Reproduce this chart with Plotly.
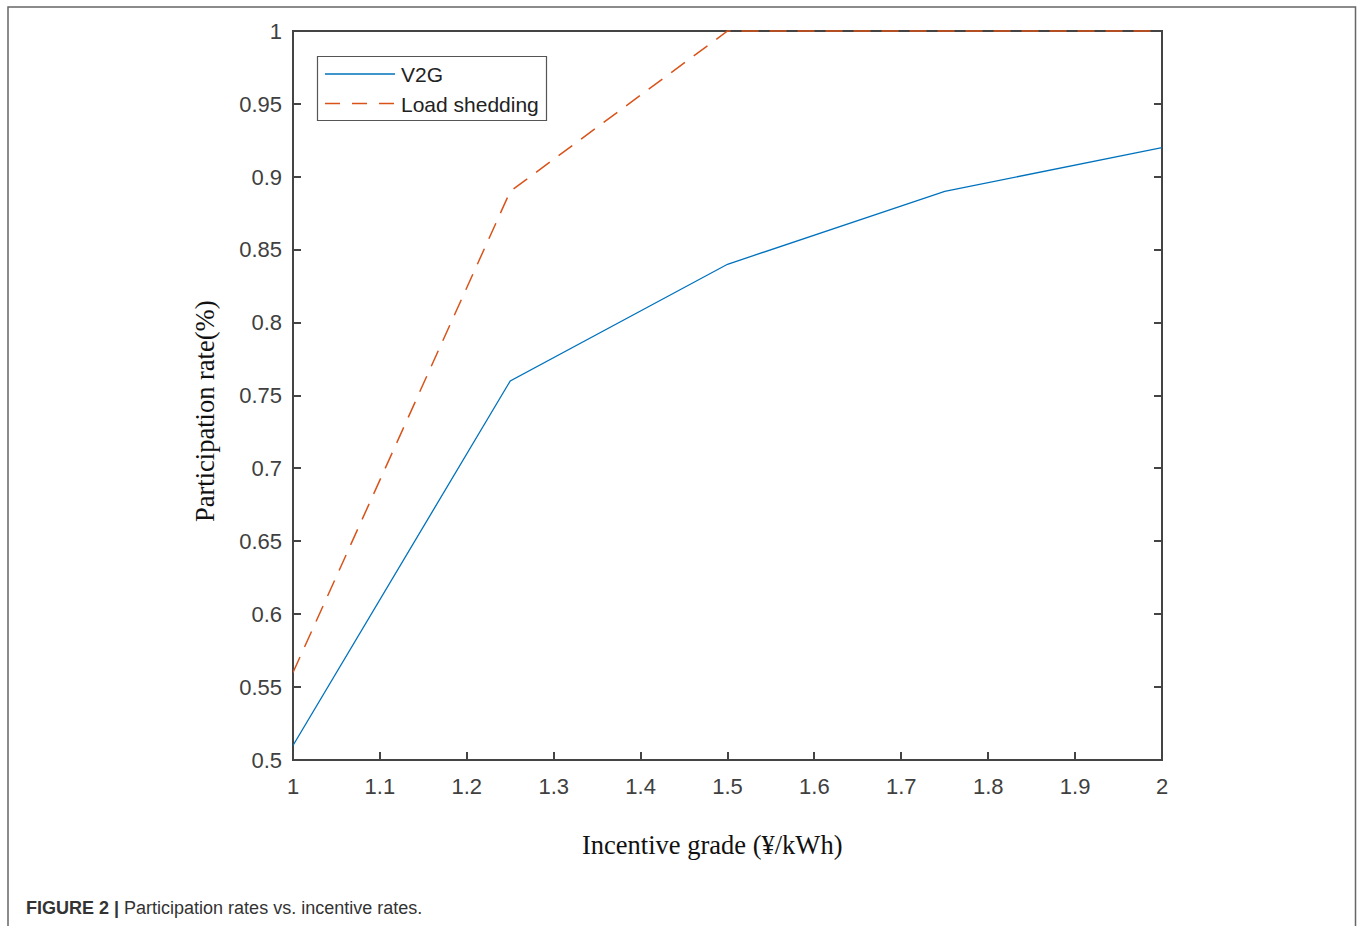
import plotly.graph_objects as go

incentive = [1.0, 1.25, 1.5, 1.75, 2.0]
v2g_rate = [0.51, 0.76, 0.84, 0.89, 0.92]
load_shedding_rate = [0.56, 0.89, 1.0, 1.0, 1.0]
series_names = ["V2G", "Load shedding"]
x_ticks = [1, 1.1, 1.2, 1.3, 1.4, 1.5, 1.6, 1.7, 1.8, 1.9, 2]
y_ticks = [0.5, 0.55, 0.6, 0.65, 0.7, 0.75, 0.8, 0.85, 0.9, 0.95, 1]
x_range = [1, 2]
y_range = [0.5, 1]

W, H = 1357, 926
# axes frame in pixels
FL, FR, FT, FB = 293, 1162, 31, 760
# plotting area extends 4px above the frame so the line at y=1 is not clipped
L, R, T, B = FL, FR, FT - 4, FB
pw, ph = R - L, B - T
y_top = y_range[0] + (y_range[1] - y_range[0]) * ph / (FB - FT)

def px(x):
    return (x - L) / pw

def py(y):
    return (B - y) / ph

BLUE = "#0072BD"
ORANGE = "#D95319"
AX = "#444444"
DASH = "17px,11px"

fig = go.Figure()
fig.add_trace(go.Scatter(x=incentive, y=v2g_rate, mode="lines", name=series_names[0],
                         line=dict(color=BLUE, width=1.3), showlegend=False))
fig.add_trace(go.Scatter(x=incentive, y=load_shedding_rate, mode="lines", name=series_names[1],
                         line=dict(color=ORANGE, width=1.5, dash=DASH), showlegend=False))

tickfont = dict(family="Liberation Sans, Arial", size=22, color="#404040")
tick_common = dict(showgrid=False, zeroline=False, showline=False, ticks="inside", ticklen=8,
                   tickwidth=1.6, tickcolor=AX)

fig.update_xaxes(range=x_range, tickvals=x_ticks, ticktext=[f"{v:g}" for v in x_ticks],
                 ticklabelstandoff=11, tickfont=tickfont, mirror=False, **tick_common)
fig.update_yaxes(range=[y_range[0], y_top], tickvals=y_ticks, ticktext=[f"{v:g}" for v in y_ticks],
                 ticklabelstandoff=10, tickfont=tickfont, mirror="ticks", **tick_common)

legend_font = dict(family="Liberation Sans, Arial", size=21, color="#222222")

fig.update_layout(
    width=W, height=H,
    margin=dict(l=L, r=W - R, t=T, b=H - B, pad=0),
    paper_bgcolor="white", plot_bgcolor="rgba(0,0,0,0)",
    showlegend=False,
    xaxis2=dict(overlaying="x", side="top", anchor="free", position=py(FT), range=x_range,
                tickvals=x_ticks, showticklabels=False, **tick_common),
    annotations=[
        dict(text="Incentive grade (¥/kWh)", x=px(712), y=py(845), xref="paper", yref="paper",
             showarrow=False, xanchor="center", yanchor="middle",
             font=dict(family="Liberation Serif, Times New Roman", size=26.5, color="#111111")),
        dict(text="Participation rate(%)", x=px(205), y=py(412), xref="paper", yref="paper",
             showarrow=False, xanchor="center", yanchor="middle", textangle=-90,
             font=dict(family="Liberation Serif, Times New Roman", size=26.5, color="#111111")),
        dict(text="<b>FIGURE 2 |</b> Participation rates vs. incentive rates.", x=px(24), y=py(908),
             xref="paper", yref="paper", showarrow=False, xanchor="left", yanchor="middle",
             font=dict(family="Liberation Sans, Arial", size=18, color="#333333")),
        dict(text=series_names[0], x=px(399), y=py(75), xref="paper", yref="paper", showarrow=False,
             xanchor="left", yanchor="middle", font=legend_font),
        dict(text=series_names[1], x=px(399), y=py(104), xref="paper", yref="paper", showarrow=False,
             xanchor="left", yanchor="middle", font=legend_font),
    ],
    shapes=[
        dict(type="rect", xref="paper", yref="paper", x0=px(8), x1=px(1355.5), y0=py(990), y1=py(7),
             line=dict(color="#666666", width=1.5), fillcolor="rgba(0,0,0,0)", layer="below"),
        # axes frame (paper refs so it is not clipped; drawn below the traces)
        dict(type="rect", xref="paper", yref="paper", x0=px(FL), x1=px(FR), y0=py(FB), y1=py(FT),
             line=dict(color=AX, width=2), fillcolor="rgba(0,0,0,0)", layer="below"),
        # legend
        dict(type="rect", xref="paper", yref="paper", x0=px(317.5), x1=px(546.5), y0=py(120.5), y1=py(56.5),
             line=dict(color="#555555", width=1.2), fillcolor="white", layer="above"),
        dict(type="line", xref="paper", yref="paper", x0=px(325), x1=px(395), y0=py(74), y1=py(74),
             line=dict(color=BLUE, width=1.3)),
        dict(type="line", xref="paper", yref="paper", x0=px(325), x1=px(395), y0=py(103.5), y1=py(103.5),
             line=dict(color=ORANGE, width=1.3, dash="15px,12px")),
    ],
)

fig.write_html("out.html", config={"displayModeBar": False},
               post_script="document.body.style.margin='0';document.body.style.overflow='hidden';")
